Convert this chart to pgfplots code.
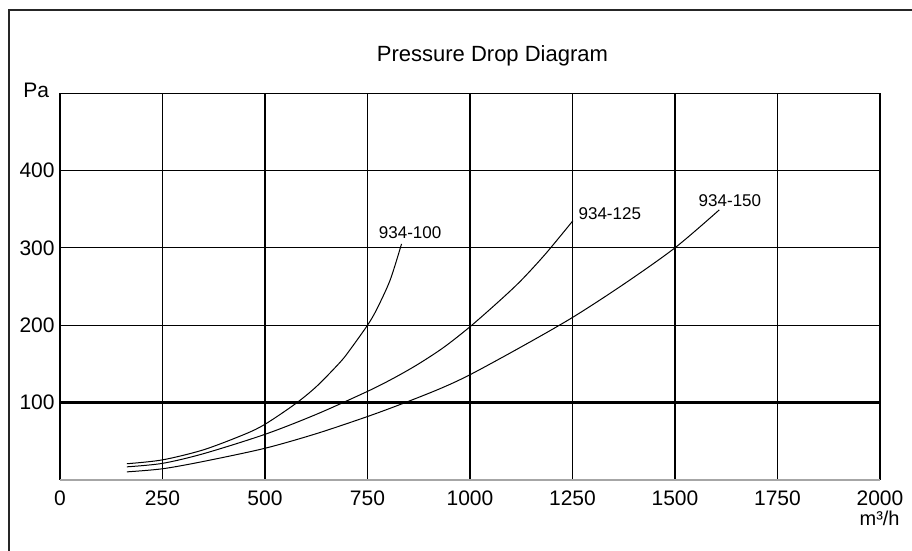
\documentclass[border=0pt]{standalone}
\usepackage{pgfplots}
\pgfplotsset{compat=1.18}
\usepackage{fontspec}
\setmainfont{Liberation Sans}

% curve data (m3/h vs Pa)
\pgfplotstableread{
x y
163 21
250 26
350 39
450 59
500 72
573 98
626 121
683 152
707 168
750 200
772 220
805 258
833 305
}\curveA
\pgfplotstableread{
x y
163 17
250 21.5
350 34
500 59
626 85
750 114.5
810 130.5
870 148.5
935 171
1000 198
1073 232
1125 258
1184 292
1251 335
}\curveB
\pgfplotstableread{
x y
163 10.5
250 14.5
350 24
500 41
626 60
750 82
837 99
927 118
1000 136
1125 172
1250 210
1375 253
1500 300
1608 349
}\curveC

\begin{document}
\begin{tikzpicture}
\begin{axis}[
    at={(0,0)}, anchor=south west,
    scale only axis,
    width=410pt, height=193.5pt,
    xmin=0, xmax=2000, ymin=0, ymax=500,
    xtick={0,250,...,2000},
    ytick={100,200,300,400},
    grid=major,
    major grid style={black, line width=0.55pt},
    axis line style={black, line width=0.5pt},
    major tick length=0pt,
    tick label style={font=\fontsize{10.5}{12}\selectfont},
    /pgf/number format/assume math mode=true,
    /pgf/number format/1000 sep={},
    xticklabel style={anchor=north, inner sep=0pt, yshift=-5pt},
    yticklabel style={anchor=east, inner sep=0pt, xshift=-2.5pt},
    clip=false,
]
\draw[line width=1.1pt] (axis cs:0,100) -- (axis cs:2000,100);
\draw[gray!70, line width=0.8pt] (rel axis cs:0,0) -- (rel axis cs:1,0);

\addplot[black, line width=0.5pt, smooth] table {\curveA};
\addplot[black, line width=0.5pt, smooth] table {\curveB};
\addplot[black, line width=0.5pt, smooth] table {\curveC};

\node[font=\fontsize{8.5}{10}\selectfont] at (axis cs:854,320) {934-100};
\node[font=\fontsize{8.5}{10}\selectfont] at (axis cs:1341,344) {934-125};
\node[font=\fontsize{8.5}{10}\selectfont] at (axis cs:1634,361) {934-150};

\node[font=\fontsize{11}{13}\selectfont] at (rel axis cs:0.5274,1.096) {Pressure Drop Diagram};
\node[font=\fontsize{10.5}{12}\selectfont, anchor=east, inner sep=0pt] at (rel axis cs:-0.013,1.008) {Pa};
\node[font=\fontsize{10}{12}\selectfont, anchor=east, inner sep=0pt] at (rel axis cs:1.0244,-0.098) {m³/h};
\end{axis}
% outer frame: only the top and left edges fall inside the picture
\draw[black!85, line width=1pt] (-25.5pt,-40pt) -- (-25.5pt,235pt) -- (430pt,235pt);
\pgfresetboundingbox
\path[use as bounding box] (-30pt,-35.5pt) rectangle (426pt,240pt);
\end{tikzpicture}
\end{document}
